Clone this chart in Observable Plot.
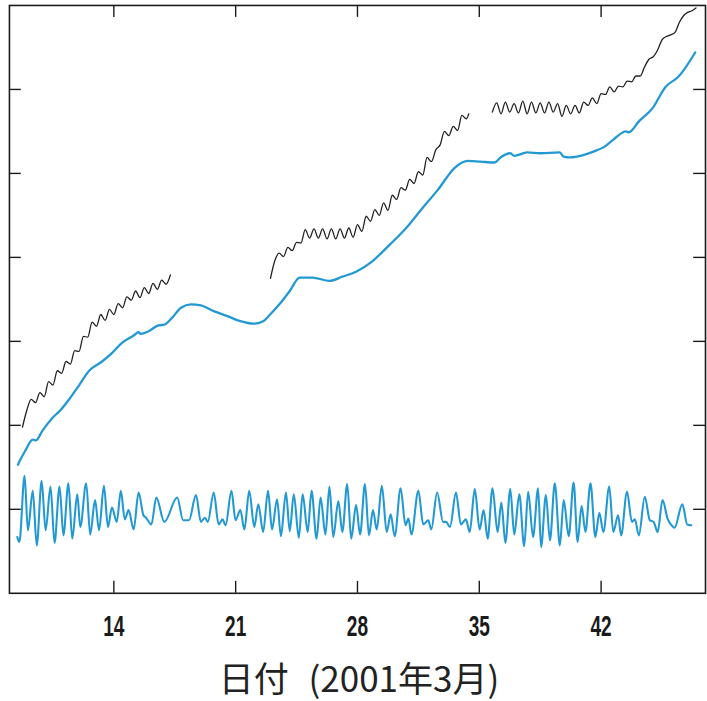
<!DOCTYPE html>
<html><head><meta charset="utf-8">
<script src="https://cdn.jsdelivr.net/npm/d3@7"></script>
<script src="https://cdn.jsdelivr.net/npm/@observablehq/plot@0.6"></script>
<style>
html,body{margin:0;padding:0;background:#fff;overflow:hidden;width:707px;height:701px}
#chart svg{display:block}
#title{position:absolute;top:655px;left:8px;width:702px;text-align:center;font-family:"Noto Sans CJK JP","Noto Sans CJK SC",sans-serif;font-size:35px;line-height:44px;color:#222;word-spacing:12px}
</style></head><body>
<div id="chart"></div>
<div id="title">日付 (2001年3月)</div>
<script>
// x: day (March 2001, continuing past 31), y: arbitrary level units
const xTicks = [14, 21, 28, 35, 42];
const yTicks = [1, 2, 3, 4, 5, 6];

// smooth (blue) upper series: [day, value]
const smoothSeries = [
[8.49,1.53],[8.60,1.58],[8.89,1.69],[9.34,1.83],[9.51,1.82],[9.91,1.94],[10.48,2.09],[10.93,2.18],
[11.50,2.33],[12.01,2.48],[12.58,2.65],[13.32,2.76],[13.89,2.86],[14.45,2.98],[15.14,3.07],[15.42,3.11],
[15.53,3.09],[15.99,3.12],[16.56,3.19],[16.90,3.20],[17.30,3.27],[17.86,3.40],[18.43,3.44],[19.00,3.43],
[19.74,3.36],[20.53,3.30],[21.27,3.24],[22.01,3.21],[22.58,3.24],[22.98,3.32],[23.55,3.45],[24.11,3.60],
[24.68,3.76],[25.42,3.76],[26.39,3.72],[27.13,3.77],[27.92,3.83],[28.83,3.95],[29.80,4.14],[30.76,4.34],
[31.67,4.57],[32.64,4.81],[33.60,5.07],[34.34,5.15],[35.08,5.14],[35.88,5.13],[36.22,5.19],[36.78,5.24],
[37.01,5.21],[37.75,5.25],[38.49,5.24],[39.63,5.25],[39.85,5.20],[40.19,5.19],[41.16,5.23],[41.56,5.26],
[42.13,5.31],[42.69,5.40],[43.43,5.50],[43.60,5.49],[44.17,5.62],[44.97,5.78],[45.70,6.03],[46.44,6.15],
[47.41,6.44]
];

// observed (black) series, three segments: [day, value]
const observedA = [
[8.75,1.98],[9.00,2.18],[9.25,2.31],[9.50,2.27],[9.75,2.39],[10.00,2.34],[10.25,2.52],[10.50,2.48],
[10.75,2.65],[11.00,2.62],[11.25,2.76],[11.50,2.73],[11.75,2.89],[12.00,2.88],[12.25,3.06],[12.50,3.05],
[12.75,3.23],[13.00,3.18],[13.25,3.32],[13.50,3.25],[13.75,3.38],[14.00,3.32],[14.25,3.45],[14.50,3.40],
[14.75,3.53],[15.00,3.49],[15.25,3.60],[15.50,3.52],[15.75,3.64],[16.00,3.57],[16.25,3.69],[16.50,3.62],
[16.75,3.73],[17.00,3.68],[17.25,3.79]
];
const observedB = [
[23.00,3.75],[23.25,3.96],[23.50,4.05],[23.75,4.01],[24.00,4.12],[24.25,4.08],[24.50,4.18],[24.75,4.17],
[25.00,4.33],[25.25,4.23],[25.50,4.34],[25.75,4.23],[26.00,4.34],[26.25,4.22],[26.50,4.34],[26.75,4.22],
[27.00,4.34],[27.25,4.23],[27.50,4.35],[27.75,4.24],[28.00,4.39],[28.25,4.31],[28.50,4.49],[28.75,4.43],
[29.00,4.57],[29.25,4.50],[29.50,4.65],[29.75,4.56],[30.00,4.74],[30.25,4.69],[30.50,4.83],[30.75,4.80],
[31.00,4.93],[31.25,4.88],[31.50,5.02],[31.75,4.98],[32.00,5.19],[32.25,5.14],[32.50,5.28],[32.75,5.34],
[33.00,5.50],[33.25,5.45],[33.50,5.56],[33.75,5.51],[34.00,5.69],[34.25,5.65],[34.40,5.71]
];
const observedC = [
[35.75,5.73],[36.00,5.84],[36.25,5.71],[36.50,5.85],[36.75,5.73],[37.00,5.83],[37.25,5.72],[37.50,5.86],
[37.75,5.71],[38.00,5.85],[38.25,5.72],[38.50,5.84],[38.75,5.72],[39.00,5.85],[39.25,5.73],[39.50,5.83],
[39.75,5.68],[40.00,5.81],[40.25,5.71],[40.50,5.81],[40.75,5.72],[41.00,5.85],[41.25,5.81],[41.50,5.90],
[41.75,5.83],[42.00,5.95],[42.25,5.94],[42.50,6.03],[42.75,5.97],[43.00,6.04],[43.25,6.03],[43.50,6.10],
[43.75,6.09],[44.00,6.16],[44.25,6.16],[44.50,6.27],[44.75,6.36],[45.00,6.39],[45.25,6.47],[45.50,6.59],
[45.75,6.63],[46.00,6.65],[46.25,6.68],[46.50,6.80],[46.75,6.88],[47.00,6.92],[47.25,6.94],[47.45,6.97]
];

// oscillating (blue) lower series: [day, value]
const oscillation = [
[8.45,0.67],[8.57,0.61],[8.87,1.40],[9.06,0.75],[9.34,1.22],[9.57,0.57],[9.85,1.34],[10.08,0.75],
[10.36,1.27],[10.59,0.60],[10.88,1.27],[11.10,0.69],[11.39,1.31],[11.61,0.65],[11.90,1.18],[12.07,0.79],
[12.41,1.31],[12.64,0.70],[12.92,1.11],[13.15,0.75],[13.43,1.28],[13.66,0.79],[13.89,1.02],[14.17,0.85],
[14.40,1.22],[14.63,0.88],[14.85,0.99],[15.14,0.76],[15.42,1.20],[15.70,0.93],[15.85,0.90],[16.16,0.82],
[16.44,1.14],[16.90,0.85],[17.64,1.14],[17.98,0.87],[18.32,0.87],[18.72,1.17],[19.00,0.85],[19.23,0.90],
[19.40,0.85],[19.74,1.20],[20.02,0.82],[20.25,0.88],[20.42,0.81],[20.76,1.22],[20.99,0.87],[21.27,0.99],
[21.50,0.76],[21.78,1.22],[22.07,0.79],[22.30,1.06],[22.58,0.73],[22.86,1.22],[23.09,0.76],[23.38,1.12],
[23.60,0.68],[23.89,1.20],[24.11,0.74],[24.34,1.18],[24.63,0.66],[24.85,1.18],[25.14,0.73],[25.36,1.22],
[25.65,0.65],[25.88,1.14],[26.16,0.70],[26.39,1.27],[26.61,0.67],[26.90,1.10],[27.13,0.73],[27.41,1.30],
[27.64,0.65],[27.92,1.05],[28.15,0.70],[28.43,1.30],[28.66,0.69],[28.89,0.99],[29.11,0.76],[29.40,1.28],
[29.68,0.73],[29.91,0.94],[30.14,0.68],[30.48,1.25],[30.76,0.81],[30.93,0.89],[31.10,0.70],[31.50,1.22],
[31.78,0.82],[32.07,0.87],[32.24,0.76],[32.58,1.20],[32.92,0.85],[33.09,0.85],[33.32,0.79],[33.66,1.20],
[33.94,0.82],[34.23,0.88],[34.45,0.73],[34.74,1.24],[35.02,0.76],[35.25,0.99],[35.48,0.65],[35.76,1.25],
[36.05,0.73],[36.27,1.08],[36.50,0.60],[36.78,1.24],[37.01,0.70],[37.30,1.18],[37.58,0.56],[37.81,1.21],
[38.09,0.67],[38.38,1.25],[38.55,0.55],[38.83,1.17],[39.06,0.63],[39.34,1.31],[39.63,0.57],[39.85,1.11],
[40.14,0.68],[40.42,1.32],[40.65,0.61],[40.88,1.04],[41.10,0.73],[41.39,1.31],[41.67,0.67],[41.90,0.96],
[42.13,0.73],[42.47,1.27],[42.70,0.73],[42.98,0.93],[43.15,0.69],[43.49,1.21],[43.77,0.85],[43.94,0.88],
[44.17,0.69],[44.51,1.15],[44.80,0.87],[45.02,0.85],[45.25,0.73],[45.53,1.11],[45.82,0.89],[46.05,0.81],
[46.22,0.78],[46.67,1.06],[46.95,0.82],[47.18,0.81]
];

const xDomain = [8, 48];
const yDomain = [0, 7];
const blue = "#2399d3";
const ink = "#1a1a1a";
const labelFont = "'Liberation Sans',Arial,sans-serif";

const plot = Plot.plot({
  width: 712, height: 648,
  marginLeft: 9, marginRight: 2, marginTop: 5, marginBottom: 51,
  x: {domain: xDomain, axis: null},
  y: {domain: yDomain, axis: null},
  marks: [
    Plot.line(smoothSeries, {x: d => d[0], y: d => d[1], stroke: blue, strokeWidth: 2.3, curve: "monotone-x"}),
    Plot.line(oscillation, {x: d => d[0], y: d => d[1], stroke: blue, strokeWidth: 2.1, curve: "monotone-x"}),
    Plot.line(observedA, {x: d => d[0], y: d => d[1], stroke: "#222", strokeWidth: 1.3, curve: "monotone-x"}),
    Plot.line(observedB, {x: d => d[0], y: d => d[1], stroke: "#222", strokeWidth: 1.3, curve: "monotone-x"}),
    Plot.line(observedC, {x: d => d[0], y: d => d[1], stroke: "#222", strokeWidth: 1.3, curve: "monotone-x"}),
    Plot.ruleX(xTicks, {x: d => d, y1: yDomain[0], y2: 0.142, stroke: ink, strokeWidth: 1.4}),
    Plot.ruleX(xTicks, {x: d => d, y1: yDomain[1], y2: 6.858, stroke: ink, strokeWidth: 1.4}),
    Plot.ruleY(yTicks, {y: d => d, x1: xDomain[0], x2: 8.68, stroke: ink, strokeWidth: 1.4}),
    Plot.ruleY(yTicks, {y: d => d, x1: xDomain[1], x2: 47.32, stroke: ink, strokeWidth: 1.4}),
    Plot.frame({stroke: ink, strokeWidth: 1.6}),
    Plot.text(xTicks, {x: d => d, y: yDomain[0], dy: 33, text: d => String(d), fontSize: 30, fontWeight: "bold", fontFamily: labelFont, fill: ink, className: "xlabels"})
  ]
});
// condense the tick labels horizontally (the original uses a narrow typeface)
plot.querySelectorAll(".xlabels text").forEach(t => {
  const tr = t.getAttribute("transform");
  if (tr) {
    t.setAttribute("transform", tr + " scale(0.64,1)");
  } else {
    const x = +t.getAttribute("x") || 0;
    t.setAttribute("transform", `translate(${x},0) scale(0.64,1) translate(${-x},0)`);
  }
});
document.getElementById("chart").append(plot);
</script>
</body></html>
